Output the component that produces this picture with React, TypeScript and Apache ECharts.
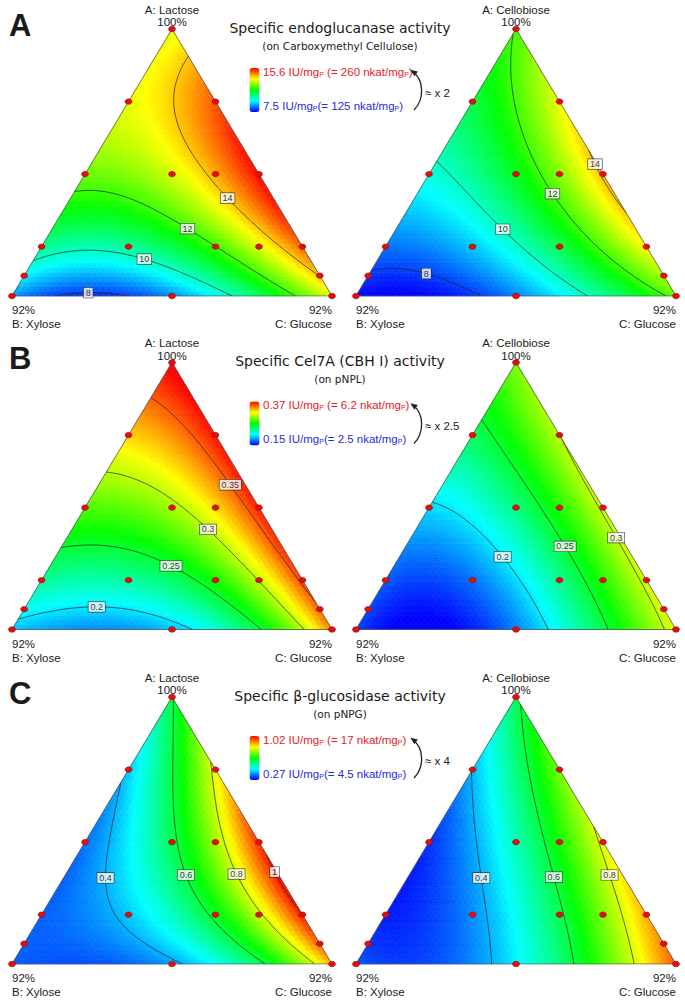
import React, { useEffect, useRef } from 'react';
import * as echarts from 'echarts';

// ---- mixture design (percent of A, B, C at each run) ----
const designA = [100, 75, 75, 50, 50, 50, 50, 25, 25, 25, 25, 25, 15, 15, 8, 8, 8];
const designB = [0, 25, 0, 50, 25, 12.5, 0, 75, 50, 25, 12.5, 0, 85, 0, 92, 46, 0];
const designC = [0, 0, 25, 0, 25, 37.5, 50, 0, 25, 50, 62.5, 75, 0, 85, 0, 46, 92];

// ---- responses read at each design point (null = run not present) ----
const endoLactose = [13.3, 13.3, 15.0, 12.5, 13.4, 14.0, 15.5, 10.4, 10.3, 12.0, 13.3, 14.9, 9.4, 14.0, 8.8, 8.6, 13.3];
const endoCellobiose = [12.1, 11.0, 13.3, 9.75, 11.4, 12.7, 14.2, 8.45, 9.0, 10.8, null, 13.5, 7.95, 12.9, 7.5, 8.6, 12.3];
const cbhLactose = [0.374, 0.325, 0.37, 0.276, 0.3, 0.31, 0.365, 0.227, 0.226, 0.265, 0.303, 0.355, 0.207, 0.35, 0.193, 0.19, 0.34];
const cbhCellobiose = [0.285, 0.243, 0.302, 0.195, 0.23, 0.26, 0.305, 0.17, 0.177, 0.235, 0.265, 0.305, 0.165, 0.308, 0.165, 0.175, 0.31];
const bglLactose = [0.6, 0.4, 0.81, 0.365, 0.6, 0.78, 0.98, 0.335, 0.4, 0.6, 0.78, 1.0, 0.34, 0.96, 0.34, 0.4, 0.88];
const bglCellobiose = [0.58, 0.41, 0.72, 0.29, 0.52, 0.64, 0.83, 0.3, 0.375, 0.57, 0.75, 0.88, 0.31, 0.93, 0.33, 0.45, 0.96];

// ---- contour levels and colour scale ranges ----
const endoLevels = [8, 10, 12, 14];
const cbhLevels = [0.2, 0.25, 0.3, 0.35];
const bglLevels = [0.4, 0.6, 0.8, 1];
const endoRange = [7.5, 15.6];
const cbhRange = [0.15, 0.37];
const bglRange = [0.27, 1.02];

// ---- texts ----
const panelLetters = ['A', 'B', 'C'];
const panelTitles = ['Specific endoglucanase activity', 'Specific Cel7A (CBH I) activity', 'Specific \u03b2-glucosidase activity'];
const panelSubtitles = ['(on Carboxymethyl Cellulose)', '(on pNPL)', '(on pNPG)'];
const maxIU = ['15.6', '0.37', '1.02'];
const maxNkat = ['260', '6.2', '17'];
const minIU = ['7.5', '0.15', '0.27'];
const minNkat = ['125', '2.5', '4.5'];
const ratios = ['2', '2.5', '4'];
const sugarA = ['A: Lactose', 'A: Cellobiose'];
const sugarB = 'B: Xylose';
const sugarC = 'C: Glucose';

// ---- layout (pixels) ----
const PLOT_LEFT = [12, 356];
const PANEL_TOP = [29, 362.5, 697];
const PLOT_W = 320;
const PLOT_H = 267;
const RAMP = ['#0000ff', '#00ffff', '#00ff00', '#ffff00', '#ff0000'];
const FILL_STEPS = 56;
const CONTOUR_STEPS = 90;
const SANS = 'Liberation Sans, Arial, sans-serif';
const VERD = 'DejaVu Sans, Verdana, sans-serif';

// contour label anchor hints (axis units 0..1), snapped onto the computed contour
const labelHints: Record<string, [number, number]>[][] = [
  [
    { '8': [0.234, 0.022], '10': [0.416, 0.135], '12': [0.547, 0.255], '14': [0.681, 0.371] },
    { '8': [0.2125, 0.064], '10': [0.45, 0.247], '12': [0.616, 0.382], '14': [0.731, 0.49] },
  ],
  [
    { '0.2': [0.266, 0.102], '0.25': [0.5, 0.241], '0.3': [0.616, 0.375], '0.35': [0.675, 0.536] },
    { '0.2': [0.466, 0.281], '0.25': [0.656, 0.318], '0.3': [0.794, 0.334] },
  ],
  [
    { '0.4': [0.316, 0.322], '0.6': [0.534, 0.331], '0.8': [0.703, 0.337], '1': [0.822, 0.345] },
    { '0.4': [0.424, 0.326], '0.6': [0.629, 0.327], '0.8': [0.783, 0.327] },
  ],
];

type Fn = (a: number, b: number, c: number) => number;

function basis(a: number, b: number, c: number) {
  return [a, b, c, a * b, a * c, b * c, a * b * c, a * b * (a - b), a * c * (a - c), b * c * (b - c)];
}

function fitModel(resp: (number | null)[]): Fn {
  const rows: number[][] = [];
  const ys: number[] = [];
  for (let k = 0; k < designA.length; k++) {
    const v = resp[k];
    if (v == null) continue;
    rows.push(basis((designA[k] - 8) / 92, designB[k] / 92, designC[k] / 92));
    ys.push(v);
  }
  const p = 10;
  const M: number[][] = [];
  for (let i = 0; i < p; i++) M.push(new Array(p + 1).fill(0));
  rows.forEach((r, n) => {
    for (let i = 0; i < p; i++) {
      for (let j = 0; j < p; j++) M[i][j] += r[i] * r[j];
      M[i][p] += r[i] * ys[n];
    }
  });
  for (let i = 0; i < p; i++) M[i][i] += 1e-7;
  for (let col = 0; col < p; col++) {
    let piv = col;
    for (let r = col + 1; r < p; r++) if (Math.abs(M[r][col]) > Math.abs(M[piv][col])) piv = r;
    const tmp = M[col]; M[col] = M[piv]; M[piv] = tmp;
    for (let r = 0; r < p; r++) {
      if (r === col) continue;
      const f = M[r][col] / M[col][col];
      for (let k = col; k <= p; k++) M[r][k] -= f * M[col][k];
    }
  }
  const beta = M.map((row, i) => row[p] / row[i]);
  return (a, b, c) => basis(a, b, c).reduce((s, v, i) => s + v * beta[i], 0);
}

const toAxis = (a: number, c: number): [number, number] => [c + a / 2, a];

function fieldData(f: Fn, range: number[]) {
  const N = FILL_STEPS;
  const out: number[][] = [];
  const push = (pts: number[][]) => {
    let sa = 0, sc = 0;
    const xy: number[] = [];
    pts.forEach(([i, j]) => {
      const a = i / N, c = j / N;
      sa += a; sc += c;
      xy.push(...toAxis(a, c));
    });
    const a = sa / 3, c = sc / 3;
    const v = Math.min(range[1], Math.max(range[0], f(a, 1 - a - c, c)));
    const [cx, cy] = toAxis(a, c);
    out.push([cx, cy, v, ...xy]);
  };
  for (let i = 0; i < N; i++) {
    for (let j = 0; j < N - i; j++) {
      push([[i, j], [i, j + 1], [i + 1, j]]);
      if (j < N - i - 1) push([[i, j + 1], [i + 1, j + 1], [i + 1, j]]);
    }
  }
  return out;
}

function contourLines(f: Fn, level: number) {
  const N = CONTOUR_STEPS;
  const V: number[][] = [];
  for (let i = 0; i <= N; i++) {
    V.push([]);
    for (let j = 0; j <= N - i; j++) {
      const a = i / N, c = j / N;
      V[i].push(f(a, 1 - a - c, c) - level);
    }
  }
  const nodes = new Map<string, [number, number]>();
  const adj = new Map<string, string[]>();
  const link = (k1: string, k2: string) => {
    if (!adj.has(k1)) adj.set(k1, []);
    if (!adj.has(k2)) adj.set(k2, []);
    adj.get(k1)!.push(k2);
    adj.get(k2)!.push(k1);
  };
  const tri = (pts: number[][]) => {
    const cross: string[] = [];
    for (let e = 0; e < 3; e++) {
      const [i1, j1] = pts[e];
      const [i2, j2] = pts[(e + 1) % 3];
      const v1 = V[i1][j1], v2 = V[i2][j2];
      if ((v1 < 0) !== (v2 < 0)) {
        const id1 = i1 + ',' + j1, id2 = i2 + ',' + j2;
        const key = id1 < id2 ? id1 + '_' + id2 : id2 + '_' + id1;
        if (!nodes.has(key)) {
          const t = v1 / (v1 - v2);
          const a = (i1 + (i2 - i1) * t) / N;
          const c = (j1 + (j2 - j1) * t) / N;
          nodes.set(key, toAxis(a, c));
        }
        cross.push(key);
      }
    }
    if (cross.length === 2) link(cross[0], cross[1]);
  };
  for (let i = 0; i < N; i++) {
    for (let j = 0; j < N - i; j++) {
      tri([[i, j], [i, j + 1], [i + 1, j]]);
      if (j < N - i - 1) tri([[i, j + 1], [i + 1, j + 1], [i + 1, j]]);
    }
  }
  const used = new Set<string>();
  const sk = (p: string, q: string) => (p < q ? p + '|' + q : q + '|' + p);
  const lines: [number, number][][] = [];
  const walk = (start: string) => {
    const path = [nodes.get(start)!];
    let cur = start;
    for (;;) {
      const nxt = (adj.get(cur) || []).find((n) => !used.has(sk(cur, n)));
      if (!nxt) break;
      used.add(sk(cur, nxt));
      path.push(nodes.get(nxt)!);
      cur = nxt;
    }
    if (path.length > 1) lines.push(path);
  };
  adj.forEach((list, k) => { if (list.length === 1) walk(k); });
  adj.forEach((_l, k) => walk(k));
  return lines;
}

const renderField = (_params: any, api: any) => {
  const p1 = api.coord([api.value(3), api.value(4)]);
  const p2 = api.coord([api.value(5), api.value(6)]);
  const p3 = api.coord([api.value(7), api.value(8)]);
  const col = api.visual('color');
  return { type: 'polygon', shape: { points: [p1, p2, p3] }, style: { fill: col, stroke: col, lineWidth: 0.6 } };
};

function txt(x: number, y: number, text: string, opts: any = {}) {
  const align = opts.align || 'left';
  return {
    type: 'text', x, y, silent: true, z: 20,
    style: {
      text, fill: opts.fill || '#1a1a1a', fontSize: opts.fontSize || 11.5, fontFamily: opts.fontFamily || SANS,
      fontWeight: opts.fontWeight || 'normal', align, verticalAlign: 'middle', textAlign: align, textVerticalAlign: 'middle',
      rich: opts.rich,
    },
  };
}

function buildOption() {
  const grid: any[] = [], xAxis: any[] = [], yAxis: any[] = [], series: any[] = [], visualMap: any[] = [], elements: any[] = [];
  const panels = [
    { resp: [endoLactose, endoCellobiose], levels: endoLevels, range: endoRange },
    { resp: [cbhLactose, cbhCellobiose], levels: cbhLevels, range: cbhRange },
    { resp: [bglLactose, bglCellobiose], levels: bglLevels, range: bglRange },
  ];
  panels.forEach((pn, pi) => {
    const T = PANEL_TOP[pi];
    const fieldIdx: number[] = [];
    pn.resp.forEach((resp, si) => {
      const g = grid.length;
      const L = PLOT_LEFT[si];
      grid.push({ left: L, top: T, width: PLOT_W, height: PLOT_H });
      xAxis.push({ type: 'value', gridIndex: g, min: 0, max: 1, show: false });
      yAxis.push({ type: 'value', gridIndex: g, min: 0, max: 1, show: false });
      const f = fitModel(resp);
      fieldIdx.push(series.length);
      series.push({
        type: 'custom', xAxisIndex: g, yAxisIndex: g, data: fieldData(f, pn.range), renderItem: renderField,
        encode: { x: 0, y: 1 }, silent: true, z: 1, progressive: 0,
      });
      const allLines: any[] = [];
      const labels: any[] = [];
      pn.levels.forEach((lv) => {
        const ls = contourLines(f, lv);
        ls.forEach((l) => allLines.push({ coords: l }));
        const hint = labelHints[pi][si][String(lv)];
        if (hint && ls.length) {
          let best: [number, number] | null = null, bd = Infinity;
          ls.forEach((l) => l.forEach((pt) => {
            const d = (pt[0] - hint[0]) ** 2 + (pt[1] - hint[1]) ** 2;
            if (d < bd) { bd = d; best = pt; }
          }));
          if (best) labels.push([best[0], best[1], String(lv)]);
        }
      });
      series.push({
        type: 'lines', coordinateSystem: 'cartesian2d', xAxisIndex: g, yAxisIndex: g, polyline: true,
        data: allLines, lineStyle: { color: '#222', width: 0.7, opacity: 1 }, silent: true, z: 3,
      });
      series.push({
        type: 'line', xAxisIndex: g, yAxisIndex: g, data: [[0, 0], [0.5, 1], [1, 0], [0, 0]],
        symbol: 'none', lineStyle: { color: '#555', width: 0.8 }, silent: true, z: 4,
      });
      const dots: number[][] = [];
      designA.forEach((A, k) => {
        if (resp[k] == null) return;
        dots.push(toAxis((A - 8) / 92, designC[k] / 92));
      });
      series.push({
        type: 'scatter', xAxisIndex: g, yAxisIndex: g, data: dots, symbol: 'circle', symbolSize: [7, 5.5],
        itemStyle: { color: '#e01010', borderColor: '#8b0000', borderWidth: 0.5, opacity: 1 }, silent: true, z: 5,
      });
      series.push({
        type: 'scatter', xAxisIndex: g, yAxisIndex: g, data: labels, symbolSize: 1,
        itemStyle: { color: 'rgba(0,0,0,0)' }, silent: true, z: 6,
        label: {
          show: true, position: 'inside', formatter: (p: any) => p.value[2], fontSize: 9, fontFamily: SANS,
          color: '#000', backgroundColor: '#fff', borderColor: '#222', borderWidth: 0.6, padding: [1, 2, 0, 2],
        },
      });
      // vertex labels
      const apexX = L + PLOT_W / 2;
      const baseY = T + PLOT_H;
      elements.push(txt(apexX, T - 19.5, sugarA[si], { align: 'center' }));
      elements.push(txt(apexX, T - 7, '100%', { align: 'center' }));
      elements.push(txt(L, baseY + 14, '92%'));
      elements.push(txt(L, baseY + 28, sugarB));
      elements.push(txt(L + PLOT_W, baseY + 14, '92%', { align: 'right' }));
      elements.push(txt(L + PLOT_W, baseY + 28, sugarC, { align: 'right' }));
    });
    visualMap.push({
      type: 'continuous', min: pn.range[0], max: pn.range[1], dimension: 2, seriesIndex: fieldIdx,
      inRange: { color: RAMP }, calculable: false, itemWidth: 10, itemHeight: 44, left: 249.5, top: T + 39,
      padding: 0, show: true, hoverLink: false,
    });
    elements.push(txt(9, T - 4, panelLetters[pi], { fontSize: 31, fontWeight: 'bold' }));
    elements.push(txt(340, T - 1.5, panelTitles[pi], { align: 'center', fontSize: 14, fontFamily: VERD }));
    elements.push(txt(340, T + 16.5, panelSubtitles[pi], { align: 'center', fontSize: 10.5, fontFamily: VERD }));
    const rich = (col: string) => ({
      t: { fill: col, fontSize: 11.5, fontFamily: SANS, verticalAlign: 'bottom', lineHeight: 14 },
      s: { fill: col, fontSize: 7, fontFamily: SANS, verticalAlign: 'bottom', lineHeight: 6 },
    });
    elements.push(txt(263, T + 41.5, `{t|${maxIU[pi]} IU/mg}{s|P}{t| (= ${maxNkat[pi]} nkat/mg}{s|P}{t|)}`, { rich: rich('#e5202a'), fill: '#e5202a' }));
    elements.push(txt(263, T + 75.5, `{t|${minIU[pi]} IU/mg}{s|P}{t|(= ${minNkat[pi]} nkat/mg}{s|P}{t|)}`, { rich: rich('#2a2ad8'), fill: '#2a2ad8' }));
    // arrow
    const x1 = 414, y1 = T + 81, x2 = 412, y2 = T + 42;
    const c1x = 424, c1y = T + 71, c2x = 425, c2y = T + 51;
    elements.push({
      type: 'bezierCurve', silent: true, z: 20,
      shape: { x1, y1, x2, y2, cpx1: c1x, cpy1: c1y, cpx2: c2x, cpy2: c2y },
      style: { stroke: '#222', lineWidth: 1.3, fill: null },
    });
    const dx = x2 - c2x, dy = y2 - c2y, dl = Math.hypot(dx, dy);
    const ux = dx / dl, uy = dy / dl;
    elements.push({
      type: 'polygon', silent: true, z: 21,
      shape: { points: [[x2 + ux * 2, y2 + uy * 2], [x2 - ux * 5 - uy * 3, y2 - uy * 5 + ux * 3], [x2 - ux * 5 + uy * 3, y2 - uy * 5 - ux * 3]] },
      style: { fill: '#222' },
    });
    elements.push(txt(425, T + 63.5, `\u2248 x ${ratios[pi]}`, { fontSize: 11.5 }));
  });
  return {
    animation: false, backgroundColor: '#ffffff', grid, xAxis, yAxis, visualMap, series,
    graphic: { elements },
  };
}

export default function App() {
  const ref = useRef<HTMLDivElement>(null);
  useEffect(() => {
    if (!ref.current) return;
    const chart = echarts.init(ref.current, null, { renderer: 'svg' });
    chart.setOption(buildOption() as any);
    return () => chart.dispose();
  }, []);
  return <div ref={ref} style={{ position: 'absolute', left: 0, top: 0, width: 685, height: 1002, background: '#fff' }} />;
}
